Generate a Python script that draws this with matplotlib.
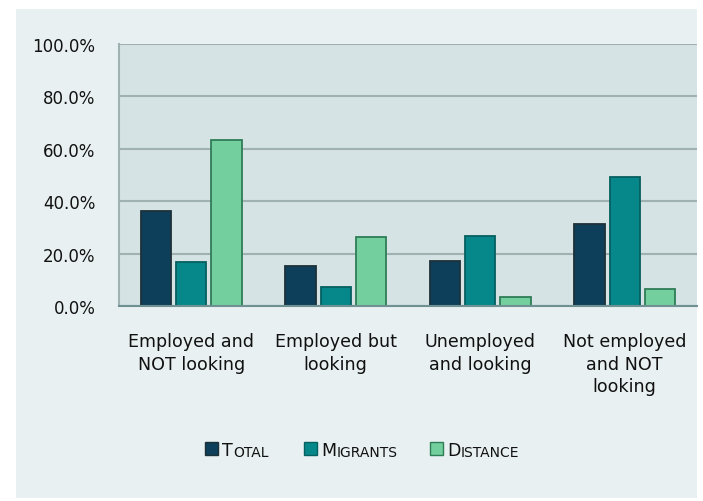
import matplotlib
matplotlib.use("Agg")
import matplotlib.pyplot as plt
from matplotlib.patches import Rectangle
import numpy as np

# ------------------------------------------------------------
# DATA
# ------------------------------------------------------------

categories = [
    "Employed and\nNOT looking",
    "Employed but\nlooking",
    "Unemployed\nand looking",
    "Not employed\nand NOT\nlooking",
]
total = [36.3, 15.2, 17.0, 31.4]
migrants = [16.7, 7.4, 26.7, 49.1]
distance = [63.4, 26.2, 3.4, 6.5]

series_names = ["Total", "Migrants", "Distance"]
yticks = [0, 20, 40, 60, 80, 100]

# ------------------------------------------------------------
# STYLE
# ------------------------------------------------------------

FACE = ["#0e3f5a", "#06888b", "#74cf9e"]
EDGE = ["#1d3038", "#06605f", "#2f7d57"]
PANEL = "#e8f0f2"
PLOT_BG = "#d5e3e5"
GRID = "#9fb1b1"
TEXT = "#111111"

plt.rcParams["font.family"] = ["DejaVu Sans"]

W, H = 703, 502
fig = plt.figure(figsize=(W / 100, H / 100), dpi=100)
fig.patch.set_facecolor("white")

# light background panel behind everything
fig.patches.append(Rectangle((16 / W, (H - 499) / H), (697 - 16) / W, (499 - 10) / H,
                             transform=fig.transFigure, facecolor=PANEL,
                             edgecolor="none", zorder=-5))

ax = fig.add_axes([119 / W, (H - 307) / H, (697 - 119) / W, (307 - 45) / H])
ax.set_facecolor(PLOT_BG)
ax.set_zorder(1)

x = np.arange(len(categories))
width = 0.211
step = 0.2424
for i, vals in enumerate([total, migrants, distance]):
    ax.bar(x + (i - 1) * step, vals, width, color=FACE[i], edgecolor=EDGE[i],
           linewidth=1.3, zorder=3)

ax.set_xlim(-0.5, len(categories) - 0.5)
ax.set_ylim(0, 100)
ax.set_yticks(yticks)
ax.set_yticklabels([f"{v:.1f}%" for v in yticks], fontsize=12, color=TEXT)
ax.set_xticks(x)
ax.set_xticklabels(categories, fontsize=12.6, color=TEXT, linespacing=1.32)
ax.tick_params(axis="both", length=0)
ax.tick_params(axis="y", pad=17)
ax.tick_params(axis="x", pad=19)

ax.yaxis.grid(True, color=GRID, linewidth=1.5, zorder=1)
ax.set_axisbelow(True)
for s in ["top", "right"]:
    ax.spines[s].set_visible(False)
ax.spines["left"].set_color(GRID)
ax.spines["left"].set_linewidth(1.5)
ax.spines["bottom"].set_color("#6f9192")
ax.spines["bottom"].set_linewidth(1.5)
ax.spines["bottom"].set_zorder(4)

# ------------------------------------------------------------
# LEGEND (small caps labels)
# ------------------------------------------------------------

sq_x = [205, 304, 430]
sq_size = 12.5
leg_y = 443
for i, name in enumerate(series_names):
    fig.patches.append(Rectangle((sq_x[i] / W, (H - leg_y - sq_size) / H),
                                 sq_size / W, sq_size / H,
                                 transform=fig.transFigure, facecolor=FACE[i],
                                 edgecolor=EDGE[i], linewidth=1.0, zorder=3))
    first = fig.text((sq_x[i] + sq_size + 4.5) / W, (H - 456.5) / H, name[0],
                     fontsize=12.5, color=TEXT, ha="left", va="baseline", zorder=3)
    fig.add_artist(matplotlib.text.Annotation(
        name[1:].upper(), xy=(1, 0), xycoords=first,
        xytext=(0.5, 0), textcoords="offset points",
        fontsize=10, color=TEXT, ha="left", va="bottom",
        annotation_clip=False, zorder=3))

fig.savefig("out.png", dpi=100, facecolor=fig.get_facecolor())
